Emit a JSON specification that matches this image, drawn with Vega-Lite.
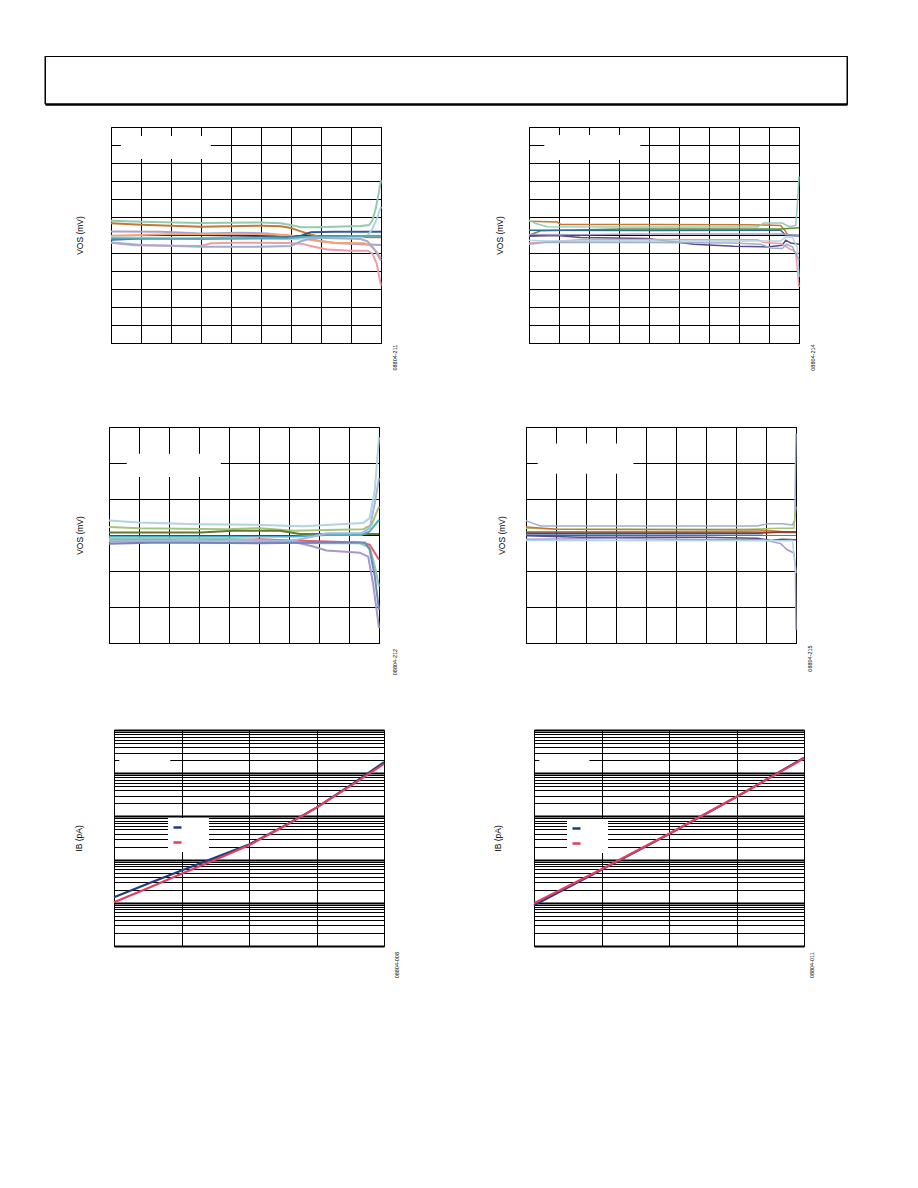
{
  "$schema": "https://vega.github.io/schema/vega-lite/v6.json",
  "background": "white",
  "padding": {"left": 44, "top": 55, "right": 0, "bottom": 0},
  "autosize": {"type": "pad"},
  "spacing": 21,
  "resolve": {"scale": {"color": "independent"}},
  "datasets": {
    "c1": [
      {"s":"A","x":0,"y":0.79},{"s":"A","x":1,"y":0.74},{"s":"A","x":3,"y":0.67},{"s":"A","x":4.99,"y":0.7},{"s":"A","x":5.66,"y":0.65},{"s":"A","x":5.99,"y":0.55},{"s":"A","x":6.33,"y":0.43},{"s":"A","x":6.77,"y":0.43},{"s":"A","x":7.44,"y":0.46},{"s":"A","x":8.32,"y":0.5},{"s":"A","x":8.6,"y":0.55},{"s":"A","x":8.71,"y":0.79},{"s":"A","x":8.82,"y":1.44},{"s":"A","x":8.93,"y":2.37},{"s":"A","x":9,"y":3.05},
      {"s":"B","x":0,"y":0.65},{"s":"B","x":1,"y":0.57},{"s":"B","x":3,"y":0.46},{"s":"B","x":5,"y":0.52},{"s":"B","x":5.66,"y":0.48},{"s":"B","x":6,"y":0.39},{"s":"B","x":6.33,"y":0.2},{"s":"B","x":6.66,"y":0.02},{"s":"B","x":6.99,"y":-0.09},{"s":"B","x":7.99,"y":-0.11},{"s":"B","x":9,"y":-0.13},
      {"s":"C","x":0,"y":0.2},{"s":"C","x":1.66,"y":0.18},{"s":"C","x":3,"y":0.09},{"s":"C","x":4.33,"y":0.13},{"s":"C","x":5.22,"y":0.09},{"s":"C","x":5.88,"y":-0.04},{"s":"C","x":6.55,"y":-0.22},{"s":"C","x":7.44,"y":-0.44},{"s":"C","x":8.32,"y":-0.52},{"s":"C","x":9,"y":-0.55},
      {"s":"D","x":0,"y":-0.04},{"s":"D","x":1.89,"y":0.04},{"s":"D","x":4.1,"y":0.06},{"s":"D","x":5.88,"y":0},{"s":"D","x":6.33,"y":-0.13},{"s":"D","x":6.77,"y":-0.31},{"s":"D","x":7.44,"y":-0.43},{"s":"D","x":8.43,"y":-0.46},{"s":"D","x":8.66,"y":-0.59},{"s":"D","x":8.82,"y":-0.87},{"s":"D","x":9,"y":-1.28},
      {"s":"E","x":0,"y":-0.26},{"s":"E","x":1,"y":-0.2},{"s":"E","x":3,"y":-0.17},{"s":"E","x":5,"y":-0.11},{"s":"E","x":6,"y":-0.13},{"s":"E","x":6.33,"y":-0.04},{"s":"E","x":6.66,"y":0.15},{"s":"E","x":7.44,"y":0.18},{"s":"E","x":9,"y":0.18},
      {"s":"F","x":0,"y":-0.13},{"s":"F","x":3,"y":-0.18},{"s":"F","x":5,"y":-0.18},{"s":"F","x":6.1,"y":-0.24},{"s":"F","x":6.55,"y":-0.17},{"s":"F","x":8.32,"y":-0.13},{"s":"F","x":8.55,"y":-0.04},{"s":"F","x":8.71,"y":0.33},{"s":"F","x":8.88,"y":0.98},{"s":"F","x":9,"y":1.57},
      {"s":"G","x":0,"y":-0.2},{"s":"G","x":3,"y":-0.22},{"s":"G","x":5.88,"y":-0.18},{"s":"G","x":6.55,"y":-0.09},{"s":"G","x":9,"y":-0.04},
      {"s":"H","x":0,"y":-0.43},{"s":"H","x":0.78,"y":-0.57},{"s":"H","x":3,"y":-0.61},{"s":"H","x":3.33,"y":-0.46},{"s":"H","x":4.1,"y":-0.43},{"s":"H","x":5.88,"y":-0.44},{"s":"H","x":6.33,"y":-0.48},{"s":"H","x":6.77,"y":-0.65},{"s":"H","x":7.21,"y":-0.81},{"s":"H","x":7.99,"y":-0.87},{"s":"H","x":8.55,"y":-0.87},{"s":"H","x":8.71,"y":-1.02},{"s":"H","x":8.86,"y":-1.61},{"s":"H","x":9,"y":-2.81},
      {"s":"I","x":0,"y":-0.41},{"s":"I","x":1,"y":-0.55},{"s":"I","x":3,"y":-0.65},{"s":"I","x":5,"y":-0.65},{"s":"I","x":6,"y":-0.61},{"s":"I","x":6.33,"y":-0.35},{"s":"I","x":6.77,"y":-0.15},{"s":"I","x":8.32,"y":-0.22},{"s":"I","x":8.55,"y":-0.35},{"s":"I","x":8.77,"y":-0.78},{"s":"I","x":9,"y":-1.42}
    ],
    "c2": [
      {"s":"A","x":0,"y":0.77},{"s":"A","x":0.94,"y":0.72},{"s":"A","x":1.06,"y":0.59},{"s":"A","x":3.94,"y":0.59},{"s":"A","x":7.28,"y":0.57},{"s":"A","x":8.39,"y":0.53},{"s":"A","x":8.52,"y":0.27},{"s":"A","x":8.63,"y":0.01},{"s":"A","x":9,"y":-0.01},
      {"s":"B","x":0,"y":0.83},{"s":"B","x":0.22,"y":0.64},{"s":"B","x":0.61,"y":0.46},{"s":"B","x":3.94,"y":0.44},{"s":"B","x":7.61,"y":0.44},{"s":"B","x":7.83,"y":0.66},{"s":"B","x":8.44,"y":0.66},{"s":"B","x":8.67,"y":0.46},{"s":"B","x":8.89,"y":0.53},{"s":"B","x":8.94,"y":1.57},{"s":"B","x":9,"y":3.25},
      {"s":"C","x":0,"y":-0.01},{"s":"C","x":0.39,"y":0.23},{"s":"C","x":3.06,"y":0.33},{"s":"C","x":6.17,"y":0.34},{"s":"C","x":8.39,"y":0.34},{"s":"C","x":9,"y":0.4},
      {"s":"D","x":0,"y":0.27},{"s":"D","x":3.94,"y":0.25},{"s":"D","x":8.39,"y":0.27},{"s":"D","x":8.56,"y":-0.01},{"s":"D","x":9,"y":-0.05},
      {"s":"E","x":0,"y":-0.07},{"s":"E","x":0.94,"y":-0.03},{"s":"E","x":1.72,"y":-0.14},{"s":"E","x":3.94,"y":-0.2},{"s":"E","x":5.5,"y":-0.51},{"s":"E","x":6.83,"y":-0.62},{"s":"E","x":7.94,"y":-0.66},{"s":"E","x":8.44,"y":-0.57},{"s":"E","x":8.56,"y":-0.29},{"s":"E","x":8.72,"y":-0.44},{"s":"E","x":9,"y":-0.51},
      {"s":"F","x":0,"y":0.03},{"s":"F","x":1.72,"y":0.01},{"s":"F","x":3.72,"y":0.05},{"s":"F","x":8.39,"y":0.05},{"s":"F","x":9,"y":-0.01},
      {"s":"G","x":0,"y":-0.44},{"s":"G","x":1.72,"y":-0.27},{"s":"G","x":3.94,"y":-0.25},{"s":"G","x":7.61,"y":-0.27},{"s":"G","x":7.83,"y":-0.42},{"s":"G","x":8.39,"y":-0.47},{"s":"G","x":8.67,"y":-0.75},{"s":"G","x":8.89,"y":-0.94},{"s":"G","x":9,"y":-2.89},
      {"s":"H","x":0,"y":-0.29},{"s":"H","x":0.61,"y":-0.34},{"s":"H","x":3.94,"y":-0.33},{"s":"H","x":8.39,"y":-0.33},{"s":"H","x":8.56,"y":-0.1},{"s":"H","x":8.78,"y":-0.14},{"s":"H","x":8.94,"y":-0.66},{"s":"H","x":9,"y":-2.33},
      {"s":"I","x":0,"y":-0.51},{"s":"I","x":0.61,"y":-0.4},{"s":"I","x":3.94,"y":-0.42},{"s":"I","x":6.83,"y":-0.44},{"s":"I","x":7.72,"y":-0.51},{"s":"I","x":8.06,"y":-0.72},{"s":"I","x":8.44,"y":-0.75},{"s":"I","x":8.59,"y":-0.51},{"s":"I","x":8.78,"y":-0.66},{"s":"I","x":9,"y":-1.4}
    ],
    "c3": [
      {"s":"A","x":0,"y":0.4},{"s":"A","x":1,"y":0.35},{"s":"A","x":2.99,"y":0.3},{"s":"A","x":5.04,"y":0.28},{"s":"A","x":6.48,"y":0.24},{"s":"A","x":7.25,"y":0.28},{"s":"A","x":8.47,"y":0.33},{"s":"A","x":8.69,"y":0.47},{"s":"A","x":8.86,"y":1.25},{"s":"A","x":9,"y":2.71},
      {"s":"B","x":0,"y":0.22},{"s":"B","x":1,"y":0.19},{"s":"B","x":3.93,"y":0.16},{"s":"B","x":5.04,"y":0.19},{"s":"B","x":6.15,"y":0.12},{"s":"B","x":7.25,"y":0.14},{"s":"B","x":8.47,"y":0.16},{"s":"B","x":8.75,"y":0.28},{"s":"B","x":9,"y":0.79},
      {"s":"C","x":0,"y":0.07},{"s":"C","x":3.05,"y":0.07},{"s":"C","x":4.15,"y":0.12},{"s":"C","x":5.7,"y":0.12},{"s":"C","x":6.37,"y":0.03},{"s":"C","x":9,"y":0.03},
      {"s":"D","x":0,"y":-0.04},{"s":"D","x":6.15,"y":-0.04},{"s":"D","x":7.25,"y":0},{"s":"D","x":8.42,"y":0},{"s":"D","x":8.69,"y":0.1},{"s":"D","x":9,"y":0.42},
      {"s":"E","x":0,"y":-0.13},{"s":"E","x":1.72,"y":-0.13},{"s":"E","x":2.38,"y":-0.15},{"s":"E","x":5.04,"y":-0.12},{"s":"E","x":6.15,"y":-0.15},{"s":"E","x":8.36,"y":-0.21},{"s":"E","x":8.69,"y":-0.27},{"s":"E","x":9,"y":-0.69},
      {"s":"F","x":0,"y":-0.1},{"s":"F","x":3.93,"y":-0.1},{"s":"F","x":6.81,"y":-0.23},{"s":"F","x":8.36,"y":-0.23},{"s":"F","x":8.69,"y":-0.34},{"s":"F","x":8.86,"y":-0.87},{"s":"F","x":9,"y":-1.43},
      {"s":"G","x":0,"y":-0.18},{"s":"G","x":3.93,"y":-0.21},{"s":"G","x":6.15,"y":-0.19},{"s":"G","x":6.81,"y":-0.32},{"s":"G","x":7.25,"y":-0.43},{"s":"G","x":8.36,"y":-0.49},{"s":"G","x":8.64,"y":-0.6},{"s":"G","x":8.8,"y":-1.34},{"s":"G","x":9,"y":-2.58},
      {"s":"H","x":0,"y":-0.24},{"s":"H","x":1.72,"y":-0.21},{"s":"H","x":5.04,"y":-0.23},{"s":"H","x":7.25,"y":-0.21},{"s":"H","x":8.53,"y":-0.21},{"s":"H","x":8.69,"y":-0.41},{"s":"H","x":8.86,"y":-1.15},{"s":"H","x":9,"y":-2.07},
      {"s":"I","x":0,"y":-0.15},{"s":"I","x":2.82,"y":-0.16},{"s":"I","x":6.15,"y":-0.15},{"s":"I","x":6.81,"y":-0.04},{"s":"I","x":7.25,"y":0.05},{"s":"I","x":8.42,"y":0.05},{"s":"I","x":8.69,"y":0.19},{"s":"I","x":8.86,"y":0.88},{"s":"I","x":9,"y":1.58}
    ],
    "c4": [
      {"s":"A","x":0,"y":0.4},{"s":"A","x":0.21,"y":0.33},{"s":"A","x":0.49,"y":0.25},{"s":"A","x":4.04,"y":0.25},{"s":"A","x":7.71,"y":0.25},{"s":"A","x":8.04,"y":0.31},{"s":"A","x":8.54,"y":0.31},{"s":"A","x":8.88,"y":0.28},{"s":"A","x":8.96,"y":0.42},{"s":"A","x":9,"y":2.82},
      {"s":"B","x":0,"y":0.19},{"s":"B","x":1.04,"y":0.16},{"s":"B","x":7.38,"y":0.16},{"s":"B","x":8.49,"y":0.19},{"s":"B","x":8.93,"y":0.19},{"s":"B","x":9,"y":0.79},
      {"s":"C","x":0,"y":0.22},{"s":"C","x":1.04,"y":0.16},{"s":"C","x":7.71,"y":0.14},{"s":"C","x":8.16,"y":0.12},{"s":"C","x":8.6,"y":0.09},{"s":"C","x":9,"y":0.09},
      {"s":"D","x":0,"y":0.08},{"s":"D","x":7.38,"y":0.08},{"s":"D","x":9,"y":0.07},
      {"s":"E","x":0,"y":0.05},{"s":"E","x":7.71,"y":0.05},{"s":"E","x":8.49,"y":0.08},{"s":"E","x":9,"y":0.08},
      {"s":"F","x":0,"y":0},{"s":"F","x":9,"y":-0.005},
      {"s":"G","x":0,"y":-0.02},{"s":"G","x":1.82,"y":-0.06},{"s":"G","x":5.82,"y":-0.06},{"s":"G","x":7.71,"y":-0.09},{"s":"G","x":8.16,"y":-0.15},{"s":"G","x":8.54,"y":-0.12},{"s":"G","x":9,"y":-0.13},
      {"s":"H","x":0,"y":-0.12},{"s":"H","x":2.93,"y":-0.1},{"s":"H","x":6.82,"y":-0.13},{"s":"H","x":7.93,"y":-0.13},{"s":"H","x":8.49,"y":-0.24},{"s":"H","x":8.71,"y":-0.41},{"s":"H","x":8.93,"y":-0.5},{"s":"H","x":8.98,"y":-0.87},{"s":"H","x":9,"y":-2.63},
      {"s":"I","x":0,"y":-0.15},{"s":"I","x":0.71,"y":-0.15},{"s":"I","x":8.49,"y":-0.16},{"s":"I","x":8.88,"y":-0.15},{"s":"I","x":9,"y":-1.06}
    ],
    "c5": [
      {"s":"IB+","t":25,"ib":1.34},{"s":"IB+","t":37.5,"ib":2.75},{"s":"IB+","t":50,"ib":5.62},{"s":"IB+","t":62.5,"ib":11.1},{"s":"IB+","t":75,"ib":22.3},{"s":"IB+","t":87.5,"ib":57.6},{"s":"IB+","t":100,"ib":160},{"s":"IB+","t":112.5,"ib":521},{"s":"IB+","t":125,"ib":1790},
      {"s":"IB−","t":25,"ib":1.03},{"s":"IB−","t":37.5,"ib":2.18},{"s":"IB−","t":50,"ib":4.7},{"s":"IB−","t":62.5,"ib":9.96},{"s":"IB−","t":75,"ib":21.5},{"s":"IB−","t":87.5,"ib":56.6},{"s":"IB−","t":100,"ib":160},{"s":"IB−","t":112.5,"ib":503},{"s":"IB−","t":125,"ib":1640}
    ],
    "c6": [
      {"s":"IB+","t":25,"ib":0.88},{"s":"IB+","t":37.5,"ib":2.26},{"s":"IB+","t":50,"ib":5.8},{"s":"IB+","t":62.5,"ib":15.0},{"s":"IB+","t":75,"ib":39},{"s":"IB+","t":87.5,"ib":105},{"s":"IB+","t":100,"ib":283},{"s":"IB+","t":112.5,"ib":803},{"s":"IB+","t":125,"ib":2280},
      {"s":"IB−","t":25,"ib":0.98},{"s":"IB−","t":37.5,"ib":2.42},{"s":"IB−","t":50,"ib":6.0},{"s":"IB−","t":62.5,"ib":15.4},{"s":"IB−","t":75,"ib":39.5},{"s":"IB−","t":87.5,"ib":106},{"s":"IB−","t":100,"ib":285},{"s":"IB−","t":112.5,"ib":790},{"s":"IB−","t":125,"ib":2200}
    ]
  },
  "vconcat": [
    {
      "width": 802, "height": 48,
      "data": {"values": [{"a": 0}, {"a": 1}]},
      "mark": {"type": "rule", "color": "black", "strokeWidth": 1},
      "encoding": {
        "x": {"field": "a", "type": "quantitative", "scale": {"domain": [0, 1]},
              "axis": {"domain": true, "domainColor": "black", "domainWidth": 2.5, "grid": false, "labels": false, "ticks": false, "title": null}}
      }
    },
    {
      "bounds": "flush", "spacing": 0,
      "resolve": {"scale": {"color": "independent"}},
      "hconcat": [
        {"width": 66, "height": 278, "data": {"values": [{}]}, "mark": "text", "encoding": {}, "view": {"stroke": null}},
        {
          "width": 270, "height": 216,
          "layer": [
            {"data": {"name": "c1"},
             "mark": {"type": "line", "strokeWidth": 2},
             "encoding": {
               "x": {"field": "x", "type": "quantitative", "scale": {"domain": [0, 9], "nice": false}, "axis": {"values": [0,1,2,3,4,5,6,7,8,9], "title": null}},
               "y": {"field": "y", "type": "quantitative", "scale": {"domain": [-6, 6], "nice": false}, "axis": {"values": [-6,-5,-4,-3,-2,-1,0,1,2,3,4,5,6], "title": "VOS (mV)", "titlePadding": 27}},
               "color": {"field": "s", "type": "nominal", "legend": null,
                 "scale": {"domain": ["A","B","C","D","E","F","G","H","I"], "range": ["#93cbb1","#c47833","#aaa2c6","#f7a46c","#2f5d8f","#aed3df","#58a7b8","#f09ba8","#9eaecf"]}}
             }},
            {"data": {"values": [{}]}, "mark": {"type": "rect", "fill": "white"},
             "encoding": {"x": {"datum": 0.33}, "x2": {"datum": 3.33}, "y": {"datum": 5.5}, "y2": {"datum": 4.22}}},
            {"data": {"values": [{}]}, "mark": {"type": "text", "angle": 270, "fontSize": 5.5, "align": "center", "baseline": "middle", "color": "black"},
             "encoding": {"x": {"datum": 9.48}, "y": {"datum": -6.81}, "text": {"value": "08804-211"}}}
          ]
        },
        {"width": 148, "height": 10, "data": {"values": [{}]}, "mark": "text", "encoding": {}, "view": {"stroke": null}},
        {
          "width": 270, "height": 216,
          "layer": [
            {"data": {"name": "c2"},
             "mark": {"type": "line", "strokeWidth": 1.5},
             "encoding": {
               "x": {"field": "x", "type": "quantitative", "scale": {"domain": [0, 9], "nice": false}, "axis": {"values": [0,1,2,3,4,5,6,7,8,9], "title": null}},
               "y": {"field": "y", "type": "quantitative", "scale": {"domain": [-6, 6], "nice": false}, "axis": {"values": [-6,-5,-4,-3,-2,-1,0,1,2,3,4,5,6], "title": "VOS (mV)", "titlePadding": 25}},
               "color": {"field": "s", "type": "nominal", "legend": null,
                 "scale": {"domain": ["A","B","C","D","E","F","G","H","I"], "range": ["#c47833","#93cbb1","#6a8a35","#2f6b8e","#5b4a88","#a69bc4","#f09ba8","#b3d6e2","#9eaecf"]}}
             }},
            {"data": {"values": [{}]}, "mark": {"type": "rect", "fill": "white"},
             "encoding": {"x": {"datum": 0.51}, "x2": {"datum": 3.71}, "y": {"datum": 5.56}, "y2": {"datum": 4.17}}},
            {"data": {"values": [{}]}, "mark": {"type": "text", "angle": 270, "fontSize": 5.5, "align": "center", "baseline": "middle", "color": "black"},
             "encoding": {"x": {"datum": 9.46}, "y": {"datum": -6.81}, "text": {"value": "08804-214"}}}
          ]
        }
      ]
    },
    {
      "bounds": "flush", "spacing": 0,
      "resolve": {"scale": {"color": "independent"}},
      "hconcat": [
        {"width": 64, "height": 281, "data": {"values": [{}]}, "mark": "text", "encoding": {}, "view": {"stroke": null}},
        {
          "width": 270, "height": 216,
          "layer": [
            {"data": {"name": "c3"},
             "mark": {"type": "line", "strokeWidth": 2},
             "encoding": {
               "x": {"field": "x", "type": "quantitative", "scale": {"domain": [0, 9], "nice": false}, "axis": {"values": [0,1,2,3,4,5,6,7,8,9], "title": null}},
               "y": {"field": "y", "type": "quantitative", "scale": {"domain": [-3, 3], "nice": false}, "axis": {"values": [-3,-2,-1,0,1,2,3], "title": "VOS (mV)", "titlePadding": 25}},
               "color": {"field": "s", "type": "nominal", "legend": null,
                 "scale": {"domain": ["A","B","C","D","E","F","G","H","I"], "range": ["#b0d4e0","#a8c47c","#5e7b2e","#4aaed0","#e55b6e","#8fcaa9","#a597cf","#6f87ba","#a9b6da"]}}
             }},
            {"data": {"values": [{}]}, "mark": {"type": "rect", "fill": "white"},
             "encoding": {"x": {"datum": 0.59}, "x2": {"datum": 3.73}, "y": {"datum": 2.26}, "y2": {"datum": 1.61}}},
            {"data": {"values": [{}]}, "mark": {"type": "text", "angle": 270, "fontSize": 5.5, "align": "center", "baseline": "middle", "color": "black"},
             "encoding": {"x": {"datum": 9.53}, "y": {"datum": -3.53}, "text": {"value": "08804-212"}}}
          ]
        },
        {"width": 147, "height": 10, "data": {"values": [{}]}, "mark": "text", "encoding": {}, "view": {"stroke": null}},
        {
          "width": 270, "height": 216,
          "layer": [
            {"data": {"name": "c4"},
             "mark": {"type": "line", "strokeWidth": 1.5},
             "encoding": {
               "x": {"field": "x", "type": "quantitative", "scale": {"domain": [0, 9], "nice": false}, "axis": {"values": [0,1,2,3,4,5,6,7,8,9], "title": null}},
               "y": {"field": "y", "type": "quantitative", "scale": {"domain": [-3, 3], "nice": false}, "axis": {"values": [-3,-2,-1,0,1,2,3], "title": "VOS (mV)", "titlePadding": 20}},
               "color": {"field": "s", "type": "nominal", "legend": null,
                 "scale": {"domain": ["A","B","C","D","E","F","G","H","I"], "range": ["#9eaecf","#a8c47c","#c47833","#5e7b2e","#9e2e2e","#3c7ec8","#5b4a88","#a597cf","#b3d6e2"]}}
             }},
            {"data": {"values": [{}]}, "mark": {"type": "rect", "fill": "white"},
             "encoding": {"x": {"datum": 0.39}, "x2": {"datum": 3.58}, "y": {"datum": 2.54}, "y2": {"datum": 1.7}}},
            {"data": {"values": [{}]}, "mark": {"type": "text", "angle": 270, "fontSize": 5.5, "align": "center", "baseline": "middle", "color": "black"},
             "encoding": {"x": {"datum": 9.47}, "y": {"datum": -3.43}, "text": {"value": "08804-215"}}}
          ]
        }
      ]
    },
    {
      "bounds": "flush", "spacing": 0,
      "resolve": {"scale": {"color": "independent"}},
      "hconcat": [
        {"width": 69, "height": 10, "data": {"values": [{}]}, "mark": "text", "encoding": {}, "view": {"stroke": null}},
        {
          "width": 270, "height": 216,
          "layer": [
            {"data": {"name": "c5"},
             "mark": {"type": "line", "strokeWidth": 2.2},
             "encoding": {
               "x": {"field": "t", "type": "quantitative", "scale": {"domain": [25, 125], "nice": false, "zero": false}, "axis": {"values": [25, 50, 75, 100, 125], "title": null}},
               "y": {"field": "ib", "type": "quantitative", "scale": {"type": "log", "domain": [0.1, 10000], "nice": false},
                     "axis": {"values": [0.1,0.2,0.3,0.4,0.5,0.6,0.7,0.8,0.9,1,2,3,4,5,6,7,8,9,10,20,30,40,50,60,70,80,90,100,200,300,400,500,600,700,800,900,1000,2000,3000,4000,5000,6000,7000,8000,9000,10000],
                              "gridWidth": {"condition": {"test": "abs(log(datum.value)/LN10 - round(log(datum.value)/LN10)) < 0.01", "value": 2}, "value": 1},
                              "title": "IB (pA)", "titlePadding": 31}},
               "color": {"field": "s", "type": "nominal",
                 "scale": {"domain": ["IB+", "IB−"], "range": ["#1d3d7d", "#e63c5e"]},
                 "legend": {"orient": "none", "legendX": 54, "legendY": 88, "fillColor": "white", "padding": 4, "symbolType": "stroke", "symbolSize": 64, "symbolStrokeWidth": 2.5, "labelOpacity": 0, "labelFontSize": 9, "labelOffset": 8, "rowPadding": 4, "title": null}}
             }},
            {"data": {"values": [{}]}, "mark": {"type": "rect", "fill": "white"},
             "encoding": {"x": {"datum": 26.96}, "x2": {"datum": 45.85}, "y": {"datum": 1300}, "y2": {"datum": 2700}}},
            {"data": {"values": [{}]}, "mark": {"type": "text", "angle": 270, "fontSize": 5.5, "align": "center", "baseline": "middle", "color": "black"},
             "encoding": {"x": {"datum": 129.8}, "y": {"datum": 0.036}, "text": {"value": "08804-008"}}}
          ]
        },
        {"width": 150, "height": 10, "data": {"values": [{}]}, "mark": "text", "encoding": {}, "view": {"stroke": null}},
        {
          "width": 270, "height": 216,
          "layer": [
            {"data": {"name": "c6"},
             "mark": {"type": "line", "strokeWidth": 2.2},
             "encoding": {
               "x": {"field": "t", "type": "quantitative", "scale": {"domain": [25, 125], "nice": false, "zero": false}, "axis": {"values": [25, 50, 75, 100, 125], "title": null}},
               "y": {"field": "ib", "type": "quantitative", "scale": {"type": "log", "domain": [0.1, 10000], "nice": false},
                     "axis": {"values": [0.1,0.2,0.3,0.4,0.5,0.6,0.7,0.8,0.9,1,2,3,4,5,6,7,8,9,10,20,30,40,50,60,70,80,90,100,200,300,400,500,600,700,800,900,1000,2000,3000,4000,5000,6000,7000,8000,9000,10000],
                              "gridWidth": {"condition": {"test": "abs(log(datum.value)/LN10 - round(log(datum.value)/LN10)) < 0.01", "value": 2}, "value": 1},
                              "title": "IB (pA)", "titlePadding": 32}},
               "color": {"field": "s", "type": "nominal",
                 "scale": {"domain": ["IB+", "IB−"], "range": ["#1d3d7d", "#e63c5e"]},
                 "legend": {"orient": "none", "legendX": 33, "legendY": 89, "fillColor": "white", "padding": 4, "symbolType": "stroke", "symbolSize": 64, "symbolStrokeWidth": 2.5, "labelOpacity": 0, "labelFontSize": 9, "labelOffset": 8, "rowPadding": 4, "title": null}}
             }},
            {"data": {"values": [{}]}, "mark": {"type": "rect", "fill": "white"},
             "encoding": {"x": {"datum": 26.96}, "x2": {"datum": 45.5}, "y": {"datum": 1300}, "y2": {"datum": 2700}}},
            {"data": {"values": [{}]}, "mark": {"type": "text", "angle": 270, "fontSize": 5.5, "align": "center", "baseline": "middle", "color": "black"},
             "encoding": {"x": {"datum": 128.1}, "y": {"datum": 0.036}, "text": {"value": "08804-011"}}}
          ]
        }
      ]
    }
  ],
  "config": {
    "view": {"stroke": "black", "strokeWidth": 1},
    "axis": {"grid": true, "gridColor": "black", "gridOpacity": 1, "gridWidth": 1, "labels": false, "ticks": false, "domain": false, "tickCount": 200,
             "titleFont": "Liberation Sans", "titleFontSize": 8.5, "titleFontWeight": "normal", "titleColor": "black"},
    "text": {"font": "Liberation Sans"},
    "legend": {"labelFont": "Liberation Sans"}
  }
}
